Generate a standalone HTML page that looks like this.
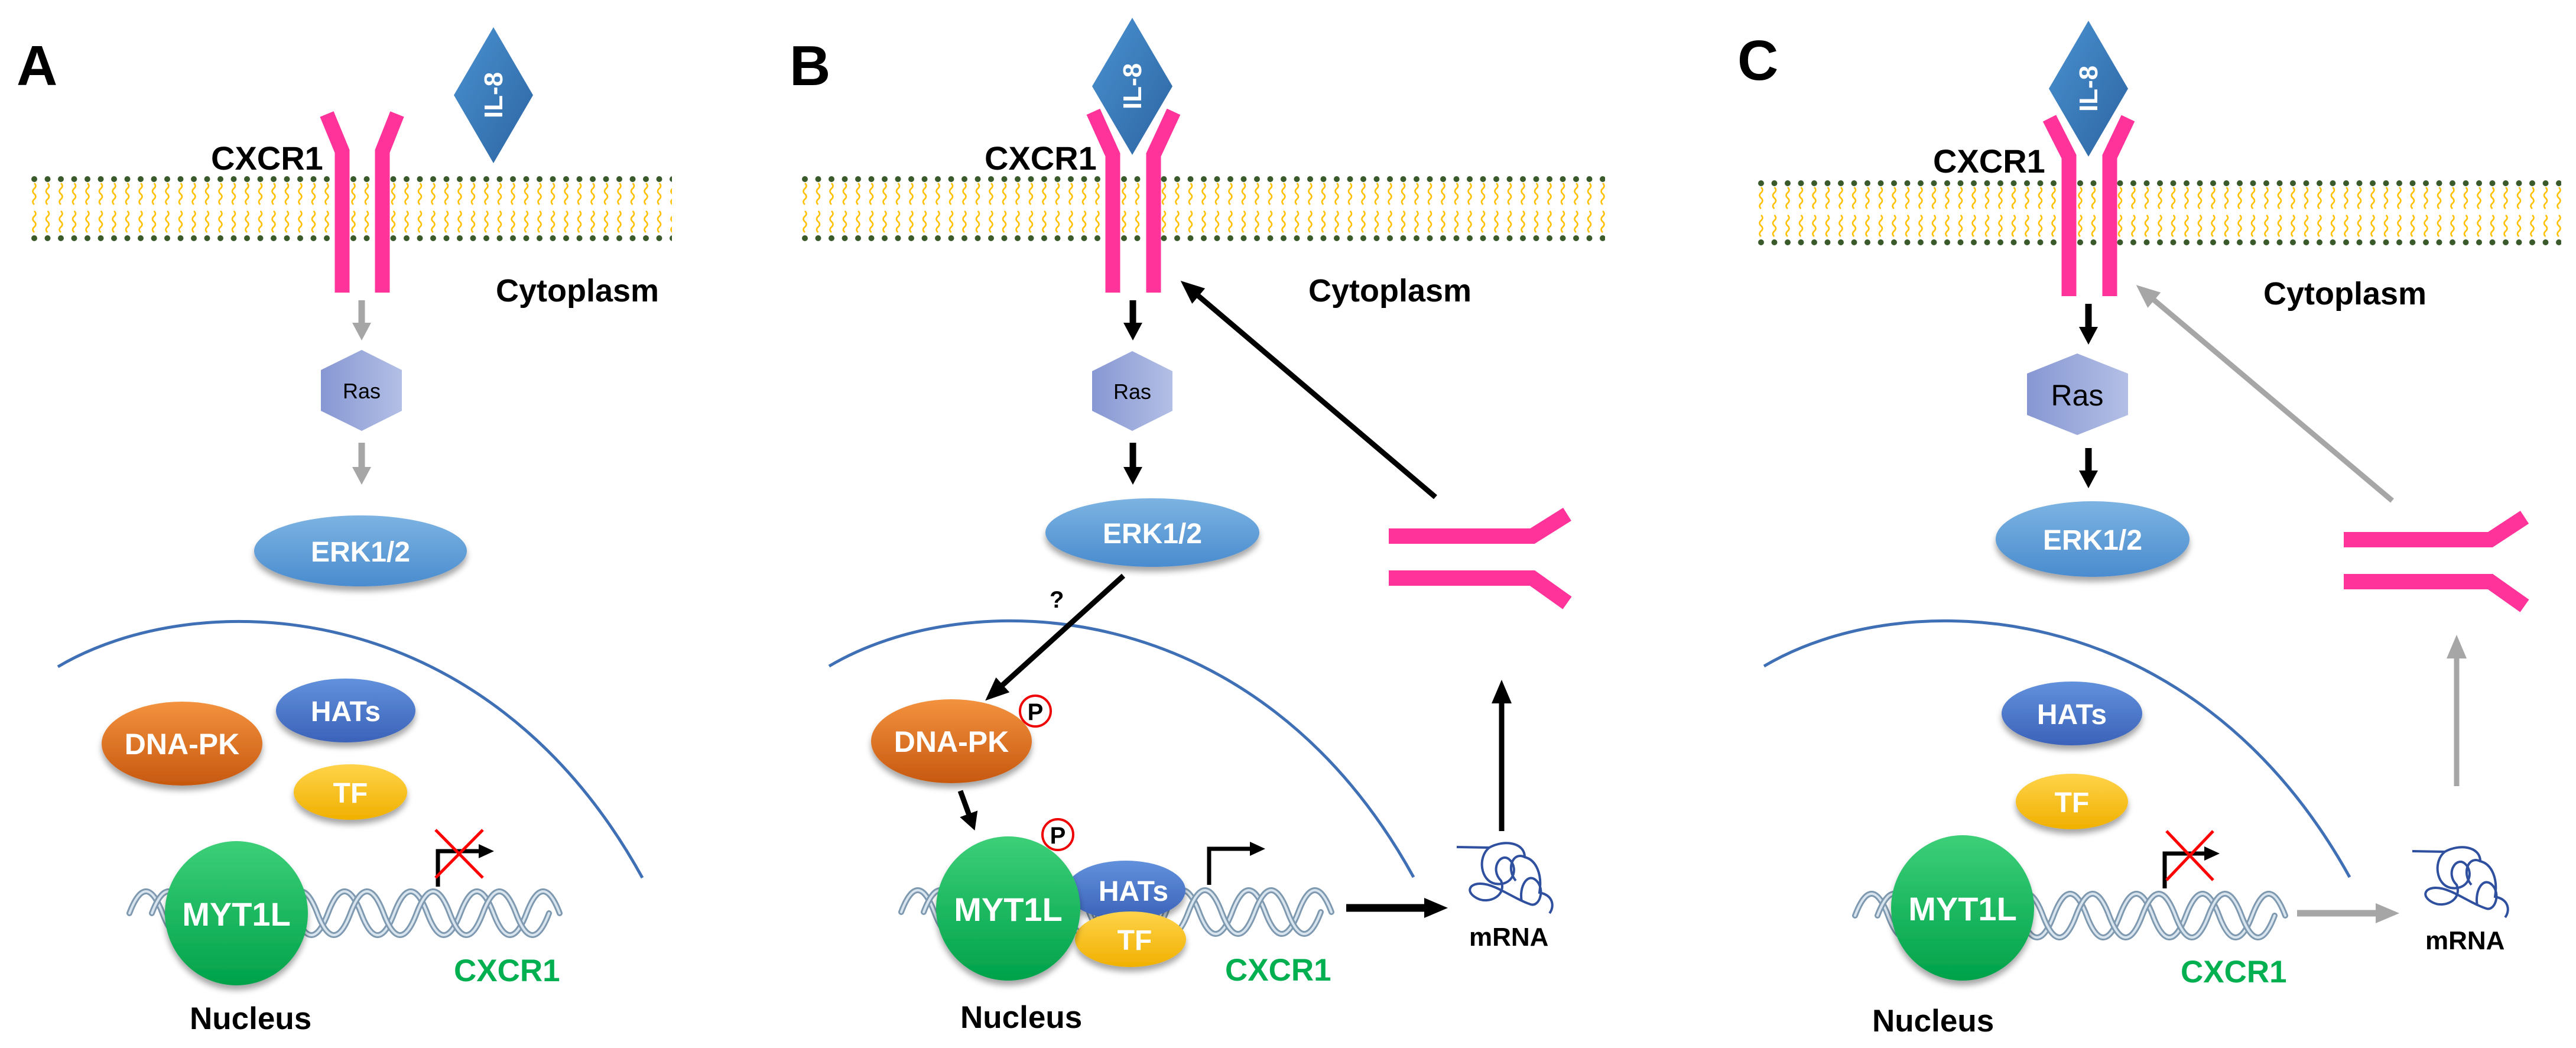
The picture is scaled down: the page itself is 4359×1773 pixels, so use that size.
<!DOCTYPE html>
<html><head><meta charset="utf-8"><style>
html,body{margin:0;padding:0;background:#fff;}
svg{display:block;}
text{font-family:"Liberation Sans",sans-serif;font-weight:bold;}
.w{fill:#fff;}
.n{font-family:"Liberation Sans Narrow","Liberation Sans",sans-serif;}
</style></head><body>
<svg width="4359" height="1773" viewBox="0 0 4359 1773" xmlns="http://www.w3.org/2000/svg">
<defs>
<pattern id="mem" patternUnits="userSpaceOnUse" x="0" y="0" width="22.5" height="112">
 <circle cx="11" cy="5" r="5" fill="#3b5a2c"/>
 <circle cx="11" cy="105" r="5" fill="#3b5a2c"/>
 <path d="M11,12 q5,4.5 0,9 q-5,4.5 0,9 q5,4.5 0,9 q-5,4.5 0,9" fill="none" stroke="#ffc000" stroke-width="2.6"/>
 <path d="M11,59 q5,4.5 0,9 q-5,4.5 0,9 q5,4.5 0,9 q-5,4.5 0,9" fill="none" stroke="#ffc000" stroke-width="2.6"/>
</pattern>
<linearGradient id="gErk" x1="0" y1="0" x2="0" y2="1"><stop offset="0" stop-color="#7cb3e2"/><stop offset="1" stop-color="#4a8ccf"/></linearGradient>
<linearGradient id="gDna" x1="0" y1="0" x2="0" y2="1"><stop offset="0" stop-color="#f3923f"/><stop offset="1" stop-color="#c7580f"/></linearGradient>
<linearGradient id="gHat" x1="0" y1="0" x2="0" y2="1"><stop offset="0" stop-color="#6291dc"/><stop offset="1" stop-color="#3b62b9"/></linearGradient>
<linearGradient id="gTf" x1="0" y1="0" x2="0" y2="1"><stop offset="0" stop-color="#ffd34a"/><stop offset="1" stop-color="#f0b000"/></linearGradient>
<linearGradient id="gMyt" x1="0" y1="0" x2="0" y2="1"><stop offset="0" stop-color="#3ccf78"/><stop offset="1" stop-color="#00a24a"/></linearGradient>
<linearGradient id="gRas" x1="0" y1="0" x2="1" y2="0"><stop offset="0" stop-color="#8797d3"/><stop offset="1" stop-color="#b3bfe5"/></linearGradient>
<linearGradient id="gIl" x1="0" y1="0" x2="1" y2="1"><stop offset="0" stop-color="#4a92d2"/><stop offset="1" stop-color="#2c64a0"/></linearGradient>
<filter id="sh" x="-20%" y="-20%" width="140%" height="150%"><feDropShadow dx="0" dy="8" stdDeviation="5" flood-color="#000" flood-opacity="0.35"/></filter>
<marker id="ab" markerUnits="userSpaceOnUse" markerWidth="40" markerHeight="34" refX="20" refY="17" orient="auto"><path d="M0,0 L40,17 L0,34 z" fill="#000"/></marker>
<marker id="ag" markerUnits="userSpaceOnUse" markerWidth="40" markerHeight="34" refX="20" refY="17" orient="auto"><path d="M0,0 L40,17 L0,34 z" fill="#a6a6a6"/></marker>
<marker id="sb" markerUnits="userSpaceOnUse" markerWidth="30" markerHeight="32" refX="14" refY="16" orient="auto"><path d="M0,0 L30,16 L0,32 z" fill="#000"/></marker>
<marker id="sg" markerUnits="userSpaceOnUse" markerWidth="30" markerHeight="32" refX="14" refY="16" orient="auto"><path d="M0,0 L30,16 L0,32 z" fill="#a6a6a6"/></marker>
</defs>

<text x="28" y="144" font-size="96">A</text>
<text x="1336" y="144" font-size="96">B</text>
<text x="2940" y="135" font-size="96">C</text>

<g transform="translate(47,298)"><rect width="1090" height="112" fill="url(#mem)"/></g>
<g transform="translate(1351,298)"><rect width="1365" height="112" fill="url(#mem)"/></g>
<g transform="translate(2969,305)"><rect width="1365" height="112" fill="url(#mem)"/></g>

<!-- ===== Panel A ===== -->
<polygon points="835,46 902,161 835,276 768,161" fill="url(#gIl)"/>
<text transform="translate(850,161) rotate(-90)" text-anchor="middle" font-size="44" class="w">IL-8</text>
<g fill="none" stroke="#ff3399" stroke-width="25">
<polyline points="553,193 579,256 579,495"/>
<polyline points="672,193 647,256 647,495"/>
</g>
<text x="357" y="287" font-size="56">CXCR1</text>
<text x="839" y="510" font-size="54">Cytoplasm</text>
<line x1="612" y1="508" x2="612" y2="560" stroke="#a6a6a6" stroke-width="11" marker-end="url(#sg)"/>
<polygon points="612,592 680,626 680,695 612,729 543,695 543,626" fill="url(#gRas)"/>
<text x="612" y="674" text-anchor="middle" font-size="36" class="n" style="font-weight:normal">Ras</text>
<line x1="612" y1="749" x2="612" y2="804" stroke="#a6a6a6" stroke-width="11" marker-end="url(#sg)"/>
<ellipse cx="610" cy="932" rx="180" ry="60" fill="url(#gErk)" filter="url(#sh)"/>
<text x="610" y="950" text-anchor="middle" font-size="48" class="w n">ERK1/2</text>
<path d="M98,1128 C330,990 820,1000 1087,1485" fill="none" stroke="#3f6fb5" stroke-width="5"/>
<ellipse cx="308" cy="1258" rx="136" ry="71" fill="url(#gDna)" filter="url(#sh)"/>
<text x="308" y="1276" text-anchor="middle" font-size="50" class="w n">DNA-PK</text>
<ellipse cx="585" cy="1202" rx="118" ry="54" fill="url(#gHat)" filter="url(#sh)"/>
<text x="585" y="1220" text-anchor="middle" font-size="48" class="w n">HATs</text>
<ellipse cx="593" cy="1340" rx="96" ry="47" fill="url(#gTf)" filter="url(#sh)"/>
<text x="593" y="1358" text-anchor="middle" font-size="48" class="w n">TF</text>
<g fill="none" stroke-linecap="round">
<path d="M219,1545 q28,-74 56,0 t56,0 t56,0 t56,0 t56,0 t56,0 t56,0 t56,0 t56,0 t56,0 t56,0 t56,0 t56,0" stroke="#7f9ab0" stroke-width="10"/>
<path d="M219,1545 q28,-74 56,0 t56,0 t56,0 t56,0 t56,0 t56,0 t56,0 t56,0 t56,0 t56,0 t56,0 t56,0 t56,0" stroke="#d8e4ee" stroke-width="4"/>
<path d="M257,1545 q28,-74 56,0 t56,0 t56,0 t56,0 t56,0 t56,0 t56,0 t56,0 t56,0 t56,0 t56,0 t56,0" stroke="#7f9ab0" stroke-width="10"/>
<path d="M257,1545 q28,-74 56,0 t56,0 t56,0 t56,0 t56,0 t56,0 t56,0 t56,0 t56,0 t56,0 t56,0 t56,0" stroke="#d8e4ee" stroke-width="4"/>
</g>
<ellipse cx="400" cy="1545" rx="121" ry="122" fill="url(#gMyt)" filter="url(#sh)"/>
<text x="400" y="1566" text-anchor="middle" font-size="56" class="w n">MYT1L</text>
<polyline points="741,1500 741,1440 815,1440" fill="none" stroke="#000" stroke-width="7"/>
<polygon points="810,1428 836,1440 810,1452" fill="#000"/>
<line x1="737" y1="1404" x2="817" y2="1485" stroke="#f00" stroke-width="5"/>
<line x1="817" y1="1404" x2="737" y2="1485" stroke="#f00" stroke-width="5"/>
<text x="768" y="1660" font-size="53" fill="#00b050">CXCR1</text>
<text x="321" y="1741" font-size="53">Nucleus</text>

<!-- ===== Panel B ===== -->
<polygon points="1916,30 1984,146 1916,262 1848,146" fill="url(#gIl)"/>
<text transform="translate(1931,146) rotate(-90)" text-anchor="middle" font-size="44" class="w">IL-8</text>
<g fill="none" stroke="#ff3399" stroke-width="25">
<polyline points="1850,189 1883,262 1883,495"/>
<polyline points="1986,189 1952,262 1952,495"/>
</g>
<text x="1666" y="287" font-size="56">CXCR1</text>
<text x="2214" y="510" font-size="54">Cytoplasm</text>
<line x1="1917" y1="508" x2="1917" y2="560" stroke="#000" stroke-width="11" marker-end="url(#sb)"/>
<polygon points="1916,594 1984,628 1984,695 1916,729 1848,695 1848,628" fill="url(#gRas)"/>
<text x="1916" y="675" text-anchor="middle" font-size="36" class="n" style="font-weight:normal">Ras</text>
<line x1="1917" y1="749" x2="1917" y2="804" stroke="#000" stroke-width="11" marker-end="url(#sb)"/>
<line x1="2429" y1="841" x2="2013" y2="488" stroke="#000" stroke-width="9" marker-end="url(#ab)"/>
<ellipse cx="1950" cy="901" rx="181" ry="58" fill="url(#gErk)" filter="url(#sh)"/>
<text x="1950" y="919" text-anchor="middle" font-size="48" class="w n">ERK1/2</text>
<g fill="none" stroke="#ff3399" stroke-width="26">
<polyline points="2350,907 2593,907 2652,870"/>
<polyline points="2350,978 2593,978 2652,1020"/>
</g>
<path d="M1403,1127 C1635,989 2125,999 2392,1484" fill="none" stroke="#3f6fb5" stroke-width="5"/>
<line x1="1901" y1="974" x2="1682" y2="1172" stroke="#000" stroke-width="9" marker-end="url(#ab)"/>
<text x="1776" y="1028" font-size="40">?</text>
<ellipse cx="1610" cy="1254" rx="136" ry="71" fill="url(#gDna)" filter="url(#sh)"/>
<text x="1610" y="1272" text-anchor="middle" font-size="50" class="w n">DNA-PK</text>
<circle cx="1752" cy="1203" r="26" fill="#fff" stroke="#e00" stroke-width="4"/>
<text x="1752" y="1218" text-anchor="middle" font-size="40">P</text>
<line x1="1625" y1="1338" x2="1644" y2="1390" stroke="#000" stroke-width="9" marker-end="url(#sb)"/>
<g fill="none" stroke-linecap="round">
<path d="M1525,1543 q28,-74 56,0 t56,0 t56,0 t56,0 t56,0 t56,0 t56,0 t56,0 t56,0 t56,0 t56,0 t56,0 t56,0" stroke="#7f9ab0" stroke-width="10"/>
<path d="M1525,1543 q28,-74 56,0 t56,0 t56,0 t56,0 t56,0 t56,0 t56,0 t56,0 t56,0 t56,0 t56,0 t56,0 t56,0" stroke="#d8e4ee" stroke-width="4"/>
<path d="M1563,1543 q28,-74 56,0 t56,0 t56,0 t56,0 t56,0 t56,0 t56,0 t56,0 t56,0 t56,0 t56,0 t56,0" stroke="#7f9ab0" stroke-width="10"/>
<path d="M1563,1543 q28,-74 56,0 t56,0 t56,0 t56,0 t56,0 t56,0 t56,0 t56,0 t56,0 t56,0 t56,0 t56,0" stroke="#d8e4ee" stroke-width="4"/>
</g>
<ellipse cx="1905" cy="1506" rx="101" ry="50" fill="url(#gHat)" filter="url(#sh)"/>
<text x="1918" y="1524" text-anchor="middle" font-size="48" class="w n">HATs</text>
<ellipse cx="1913" cy="1589" rx="94" ry="47" fill="url(#gTf)" filter="url(#sh)"/>
<text x="1920" y="1607" text-anchor="middle" font-size="48" class="w n">TF</text>
<ellipse cx="1706" cy="1537" rx="122" ry="122" fill="url(#gMyt)" filter="url(#sh)"/>
<text x="1706" y="1558" text-anchor="middle" font-size="56" class="w n">MYT1L</text>
<circle cx="1790" cy="1412" r="26" fill="#fff" stroke="#e00" stroke-width="4"/>
<text x="1790" y="1427" text-anchor="middle" font-size="40">P</text>
<polyline points="2046,1497 2046,1436 2120,1436" fill="none" stroke="#000" stroke-width="7"/>
<polygon points="2115,1424 2141,1436 2115,1448" fill="#000"/>
<text x="2073" y="1659" font-size="53" fill="#00b050">CXCR1</text>
<text x="1625" y="1739" font-size="53">Nucleus</text>
<line x1="2278" y1="1536" x2="2430" y2="1536" stroke="#000" stroke-width="13" marker-end="url(#ab)"/>
<path d="M2465,1433 L2520,1434 C2545,1420 2580,1425 2580,1450 C2600,1455 2610,1480 2605,1510 C2630,1515 2630,1535 2622,1545 M2520,1434 C2500,1450 2505,1490 2530,1495 C2560,1500 2570,1470 2555,1455 C2540,1440 2520,1470 2540,1490 C2550,1515 2520,1530 2500,1520 C2480,1510 2485,1495 2505,1495 C2530,1495 2560,1520 2590,1530 C2605,1535 2615,1505 2600,1490 C2585,1475 2570,1500 2575,1525 M2580,1450 C2560,1440 2548,1470 2565,1490" fill="none" stroke="#2f4f9f" stroke-width="4"/>
<text x="2486" y="1600" font-size="44">mRNA</text>
<line x1="2541" y1="1406" x2="2541" y2="1170" stroke="#000" stroke-width="9" marker-end="url(#ab)"/>

<!-- ===== Panel C ===== -->
<polygon points="3534,35 3601,150 3534,265 3467,150" fill="url(#gIl)"/>
<text transform="translate(3549,150) rotate(-90)" text-anchor="middle" font-size="44" class="w">IL-8</text>
<g fill="none" stroke="#ff3399" stroke-width="25">
<polyline points="3468,200 3501,265 3501,501"/>
<polyline points="3601,200 3570,265 3570,501"/>
</g>
<text x="3271" y="292" font-size="56">CXCR1</text>
<text x="3830" y="515" font-size="54">Cytoplasm</text>
<line x1="3534" y1="514" x2="3534" y2="567" stroke="#000" stroke-width="11" marker-end="url(#sb)"/>
<polygon points="3515,598 3601,632 3601,702 3515,736 3430,702 3430,632" fill="url(#gRas)"/>
<text x="3515" y="686" text-anchor="middle" font-size="50" class="n" style="font-weight:normal">Ras</text>
<line x1="3534" y1="758" x2="3534" y2="810" stroke="#000" stroke-width="11" marker-end="url(#sb)"/>
<line x1="4048" y1="847" x2="3630" y2="495" stroke="#a6a6a6" stroke-width="9" marker-end="url(#ag)"/>
<ellipse cx="3541" cy="912" rx="164" ry="64" fill="url(#gErk)" filter="url(#sh)"/>
<text x="3541" y="930" text-anchor="middle" font-size="48" class="w n">ERK1/2</text>
<g fill="none" stroke="#ff3399" stroke-width="26">
<polyline points="3966,913 4214,913 4272,875"/>
<polyline points="3966,984 4214,984 4272,1025"/>
</g>
<path d="M2985,1127 C3217,989 3707,999 3976,1484" fill="none" stroke="#3f6fb5" stroke-width="5"/>
<ellipse cx="3506" cy="1207" rx="119" ry="54" fill="url(#gHat)" filter="url(#sh)"/>
<text x="3506" y="1225" text-anchor="middle" font-size="48" class="w n">HATs</text>
<ellipse cx="3506" cy="1356" rx="95" ry="47" fill="url(#gTf)" filter="url(#sh)"/>
<text x="3506" y="1374" text-anchor="middle" font-size="48" class="w n">TF</text>
<g fill="none" stroke-linecap="round">
<path d="M3139,1549 q28,-74 56,0 t56,0 t56,0 t56,0 t56,0 t56,0 t56,0 t56,0 t56,0 t56,0 t56,0 t56,0 t56,0" stroke="#7f9ab0" stroke-width="10"/>
<path d="M3139,1549 q28,-74 56,0 t56,0 t56,0 t56,0 t56,0 t56,0 t56,0 t56,0 t56,0 t56,0 t56,0 t56,0 t56,0" stroke="#d8e4ee" stroke-width="4"/>
<path d="M3177,1549 q28,-74 56,0 t56,0 t56,0 t56,0 t56,0 t56,0 t56,0 t56,0 t56,0 t56,0 t56,0 t56,0" stroke="#7f9ab0" stroke-width="10"/>
<path d="M3177,1549 q28,-74 56,0 t56,0 t56,0 t56,0 t56,0 t56,0 t56,0 t56,0 t56,0 t56,0 t56,0 t56,0" stroke="#d8e4ee" stroke-width="4"/>
</g>
<ellipse cx="3321" cy="1536" rx="121" ry="123" fill="url(#gMyt)" filter="url(#sh)"/>
<text x="3321" y="1557" text-anchor="middle" font-size="56" class="w n">MYT1L</text>
<polyline points="3663,1503 3663,1444 3735,1444" fill="none" stroke="#000" stroke-width="7"/>
<polygon points="3730,1432 3756,1444 3730,1456" fill="#000"/>
<line x1="3666" y1="1406" x2="3745" y2="1489" stroke="#f00" stroke-width="5"/>
<line x1="3745" y1="1406" x2="3666" y2="1489" stroke="#f00" stroke-width="5"/>
<text x="3690" y="1662" font-size="53" fill="#00b050">CXCR1</text>
<text x="3168" y="1745" font-size="53">Nucleus</text>
<line x1="3887" y1="1545" x2="4040" y2="1545" stroke="#a6a6a6" stroke-width="11" marker-end="url(#ag)"/>
<path d="M4082,1440 L4137,1441 C4162,1427 4197,1432 4197,1457 C4217,1462 4227,1487 4222,1517 C4247,1522 4247,1542 4239,1552 M4137,1441 C4117,1457 4122,1497 4147,1502 C4177,1507 4187,1477 4172,1462 C4157,1447 4137,1477 4157,1497 C4167,1522 4137,1537 4117,1527 C4097,1517 4102,1502 4122,1502 C4147,1502 4177,1527 4207,1537 C4222,1542 4232,1512 4217,1497 C4202,1482 4187,1507 4192,1532 M4197,1457 C4177,1447 4165,1477 4182,1497" fill="none" stroke="#2f4f9f" stroke-width="4"/>
<text x="4104" y="1606" font-size="44">mRNA</text>
<line x1="4157" y1="1330" x2="4157" y2="1094" stroke="#a6a6a6" stroke-width="9" marker-end="url(#ag)"/>
</svg>
</body></html>
